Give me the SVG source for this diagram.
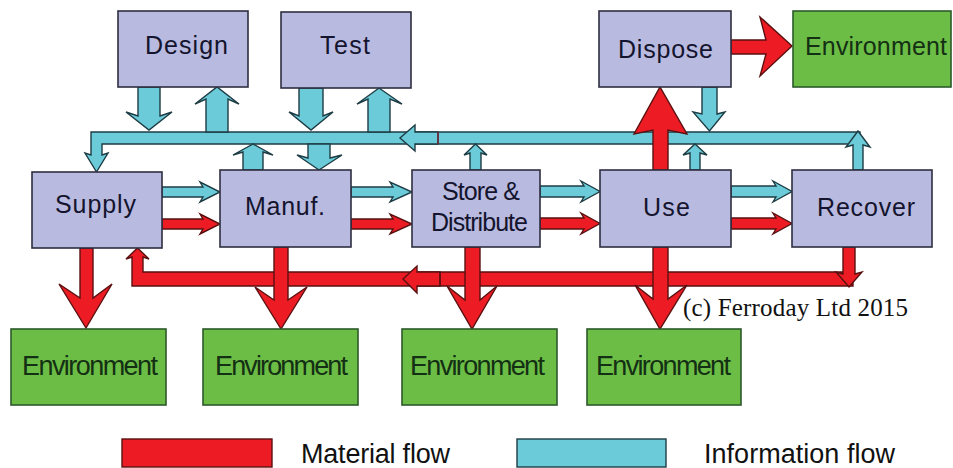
<svg xmlns="http://www.w3.org/2000/svg" width="953" height="468" viewBox="0 0 953 468">
  <style>
    .box { fill: #b9badf; stroke: #2e2e40; stroke-width: 1.6; }
    .env { fill: #6cbd45; stroke: #2c5a2a; stroke-width: 1.6; }
    .lbl { font-family: "Liberation Sans", Arial, sans-serif; font-size: 25px; fill: #14142e; }
    .elbl { font-family: "Liberation Sans", Arial, sans-serif; font-size: 27px; fill: #143014; }
    .info { fill: #6ccbd9; stroke: #1d3c44; stroke-width: 1.4; stroke-linejoin: miter; }
    .mat { fill: #ed1c24; stroke: #5a1010; stroke-width: 1.4; stroke-linejoin: miter; }
    .leg { font-family: "Liberation Sans", Arial, sans-serif; font-size: 27px; fill: #111; }
    .copy { font-family: "Liberation Serif", "Times New Roman", serif; font-size: 25px; fill: #111; }
  </style>

  <rect width="953" height="468" fill="#ffffff"/>

  <!-- connectors: information flow (cyan) and material flow (red) -->
  <g id="connectors">
    <!-- information bus with drop to Supply -->
    <path class="info" d="M91,132 H860 V144 H102 V155 L108,153 L96.5,172 L85,153 L91,155 Z"/>
    <!-- return arrowhead on the bus -->
    <path class="info" d="M438,132 H415 V125 L400,138 L415,151 V144 H438 Z"/>
    <line x1="438" y1="132" x2="438" y2="144" stroke="#7a2030" stroke-width="1.4"/>

    <!-- Design / Test exchanges with the bus -->
    <path class="info" d="M138,87 H160 V116 L172,112 L149,130 L126,112 L138,116 Z"/>
    <path class="info" d="M206,132 V99 L195,104 L217,87 L239,104 L228,99 V132 Z"/>
    <path class="info" d="M299,88 H323 V116 L333,112 L311,130 L289,112 L299,116 Z"/>
    <path class="info" d="M368,132 V99 L357,104 L379,88 L402,104 L390,99 V132 Z"/>

    <!-- bus exchanges with the process row -->
    <path class="info" d="M243,170 V152 L233,155 L253,144 L273,155 L263,152 V170 Z"/>
    <path class="info" d="M308,144 H330 V158 L342,155 L319,170 L297,155 L308,158 Z"/>
    <path class="info" d="M470,170 V153 L464,155 L475.5,144 L487,155 L481,153 V170 Z"/>
    <path class="info" d="M690,170 V153 L683,155 L695,144 L707,155 L700,153 V170 Z"/>
    <path class="info" d="M853,170 V145 L846,147 L858,131 L870,147 L863,145 V170 Z"/>
    <path class="info" d="M702,87 H717 V114 L725,112 L709.5,131 L693,112 L702,114 Z"/>

    <!-- horizontal information arrows -->
    <path class="info" d="M162,187 H203 L200,182 L220,192 L200,202 L203,197 H162 Z"/>
    <path class="info" d="M351,187 H393 L390,182 L412,192 L390,202 L393,197 H351 Z"/>
    <path class="info" d="M540,186 H584 L581,181 L600,191.5 L581,202 L584,197 H540 Z"/>
    <path class="info" d="M731,186 H776 L773,181 L792,191.5 L773,202 L776,197 H731 Z"/>

    <!-- horizontal material arrows -->
    <path class="mat" d="M162,219 H203 L200,214 L220,224 L200,234 L203,229 H162 Z"/>
    <path class="mat" d="M351,219 H393 L390,214 L412,224 L390,234 L393,229 H351 Z"/>
    <path class="mat" d="M540,218 H584 L581,213 L600,223.5 L581,234 L584,229 H540 Z"/>
    <path class="mat" d="M731,218 H776 L773,213 L792,223.5 L773,234 L776,229 H731 Z"/>

    <!-- material return loop back to Supply -->
    <path class="mat" d="M132,286 V257 L126,259 L137.5,248 L149,259 L143,257 V272 H853 V286 Z"/>
    <path class="mat" d="M440,272 H417 V266 L403,279 L417,293 V286 H440 Z"/>
    <line x1="440" y1="272" x2="440" y2="286" stroke="#5a1010" stroke-width="1.4"/>

    <!-- material to the environment -->
    <path class="mat" d="M80,248 H93 V298 L112,284 L86,328 L59,284 L80,298 Z"/>
    <path class="mat" d="M274,247 H288 V300 L307,287 L281,329 L255,287 L274,300 Z"/>
    <path class="mat" d="M465,247 H480 V300 L497,286 L472,329 L447,286 L465,300 Z"/>
    <path class="mat" d="M653,247 H668 V299 L687,285 L660,329 L635,285 L653,299 Z"/>
    <path class="mat" d="M843,247 H855 V274 L862,272 L849,287 L836,272 L843,274 Z"/>

    <!-- Use to Dispose, Dispose to Environment -->
    <path class="mat" d="M653,170 V130 L634,134 L660,87 L687,134 L668,130 V170 Z"/>
    <path class="mat" d="M731,40 H766 L760,17 L792,46 L760,76 L766,54 H731 Z"/>
  </g>

  <!-- process nodes -->
  <g id="design"><rect class="box" x="118" y="11" width="130" height="76"/><text class="lbl" x="145" y="54" textLength="83">Design</text></g>
  <g id="test"><rect class="box" x="281" y="12" width="130" height="76"/><text class="lbl" x="320" y="54" textLength="50">Test</text></g>
  <g id="dispose"><rect class="box" x="599" y="11" width="132" height="76"/><text class="lbl" x="618" y="58" textLength="95">Dispose</text></g>
  <g id="env-dispose"><rect class="env" x="793" y="11" width="158" height="76"/><text class="lbl" x="805" y="55" textLength="142" style="fill:#143014">Environment</text></g>

  <g id="supply"><rect class="box" x="32" y="172" width="130" height="76"/><text class="lbl" x="55" y="213" textLength="81">Supply</text></g>
  <g id="manuf"><rect class="box" x="220" y="170" width="131" height="77"/><text class="lbl" x="245" y="215" textLength="80">Manuf.</text></g>
  <g id="store"><rect class="box" x="412" y="170" width="128" height="77"/><text class="lbl" x="442" y="200" textLength="78">Store &amp;</text><text class="lbl" x="431" y="231" textLength="97">Distribute</text></g>
  <g id="use"><rect class="box" x="600" y="170" width="131" height="77"/><text class="lbl" x="643" y="216" textLength="47">Use</text></g>
  <g id="recover"><rect class="box" x="792" y="170" width="140" height="77"/><text class="lbl" x="817" y="216" textLength="98">Recover</text></g>

  <!-- environment sinks -->
  <g id="env-supply"><rect class="env" x="11" y="329" width="155" height="76"/><text class="elbl" x="22" y="375" textLength="136">Environment</text></g>
  <g id="env-manuf"><rect class="env" x="203" y="329" width="155" height="76"/><text class="elbl" x="215" y="375" textLength="133">Environment</text></g>
  <g id="env-store"><rect class="env" x="402" y="329" width="155" height="76"/><text class="elbl" x="410" y="375" textLength="135">Environment</text></g>
  <g id="env-use"><rect class="env" x="587" y="329" width="154" height="76"/><text class="elbl" x="596" y="375" textLength="135">Environment</text></g>

  <!-- copyright -->
  <text class="copy" x="683" y="316" textLength="225">(c) Ferroday Ltd 2015</text>

  <!-- legend -->
  <g id="legend">
    <rect x="122" y="439" width="150" height="28" fill="#ed1c24" stroke="#5a1010" stroke-width="1.4"/>
    <text class="leg" x="301" y="463" textLength="149">Material flow</text>
    <rect x="517" y="439" width="149" height="28" fill="#6ccbd9" stroke="#1d3c44" stroke-width="1.4"/>
    <text class="leg" x="704" y="463" textLength="191">Information flow</text>
  </g>
</svg>
